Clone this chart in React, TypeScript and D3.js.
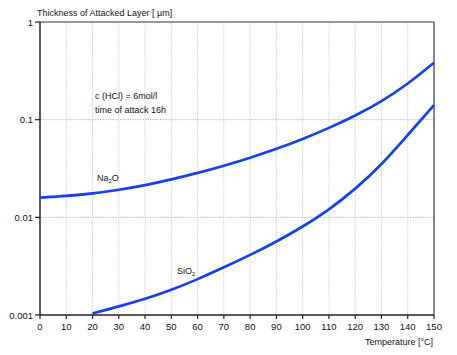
import React from "react";
import * as d3 from "d3";

const temps = [0, 10, 20, 30, 40, 50, 60, 70, 80, 90, 100, 110, 120, 130, 140, 150];
const na2oValues = [0.0159, 0.0165, 0.0175, 0.0191, 0.0213, 0.0244, 0.0284, 0.0337, 0.0406, 0.0501, 0.0632, 0.082, 0.1096, 0.1531, 0.2307, 0.383];
const sio2Temps = [20, 30, 40, 50, 60, 70, 80, 90, 100, 110, 120, 130, 140, 150];
const sio2Values = [0.00104, 0.00122, 0.00146, 0.0018, 0.00232, 0.00307, 0.00411, 0.00563, 0.008, 0.0119, 0.0194, 0.0344, 0.0697, 0.141];
const xTicks = [0, 10, 20, 30, 40, 50, 60, 70, 80, 90, 100, 110, 120, 130, 140, 150];
const yTicks = [1, 0.1, 0.01, 0.001];
const yTickLabels = ["1", "0.1", "0.01", "0.001"];

const W = 457, H = 355;
const L = 40, R = 434, T = 22, B = 315;
const FONT = "'Liberation Sans', Arial, sans-serif";
const BLUE = "#1440f0";

export default function App() {
  const x = d3.scaleLinear().domain([0, 150]).range([L, R]);
  const y = d3.scaleLog().domain([0.001, 1]).range([B, T]);
  const line = d3.line<[number, number]>().x(d => x(d[0])).y(d => y(d[1])).curve(d3.curveBasis);
  const na2o: [number, number][] = temps.map((t, i) => [t, na2oValues[i]]);
  const sio2: [number, number][] = sio2Temps.map((t, i) => [t, sio2Values[i]]);
  return (
    <svg width={W} height={H} style={{ position: "absolute", left: 0, top: 0, background: "#fff" }} fontFamily={FONT}>
      <rect x={0} y={0} width={W} height={H} fill="#fff" />
      {xTicks.filter(t => t > 0 && t < 150).map(t => (
        <line key={"gx" + t} x1={x(t)} x2={x(t)} y1={T} y2={B} stroke="#c4c8d0" strokeWidth={0.8} strokeDasharray="1.5,1" />
      ))}
      {[0.1, 0.01].map(v => (
        <line key={"gy" + v} x1={L} x2={R} y1={y(v)} y2={y(v)} stroke="#a8acb4" strokeWidth={0.8} strokeDasharray="1.5,1" />
      ))}
      <line x1={L} x2={R} y1={T} y2={T} stroke="#333" strokeWidth={1.2} />
      <line x1={R} x2={R} y1={T} y2={B} stroke="#333" strokeWidth={1.2} />
      <line x1={L} x2={L} y1={T} y2={B} stroke="#222" strokeWidth={1.5} />
      <line x1={L} x2={R} y1={B} y2={B} stroke="#222" strokeWidth={1.5} />
      {xTicks.map(t => (
        <g key={"xt" + t}>
          <line x1={x(t)} x2={x(t)} y1={B} y2={B + 4} stroke="#222" strokeWidth={1.2} />
          <text x={x(t)} y={330} textAnchor="middle" fontSize={9.5} fill="#111">{t}</text>
        </g>
      ))}
      {yTicks.map((v, i) => (
        <g key={"yt" + v}>
          <line x1={L - 5} x2={L} y1={y(v)} y2={y(v)} stroke="#222" strokeWidth={1.2} />
          <text x={33} y={y(v) + 3.5} textAnchor="end" fontSize={9.5} fill="#111">{yTickLabels[i]}</text>
        </g>
      ))}
      <path d={line(na2o) || ""} fill="none" stroke={BLUE} strokeWidth={2.7} />
      <path d={line(sio2) || ""} fill="none" stroke={BLUE} strokeWidth={2.7} />
      <text x={37} y={15.5} fontSize={9} fill="#111">Thickness of Attacked Layer [ µm]</text>
      <text x={433} y={345} textAnchor="end" fontSize={9} fill="#111">Temperature [°C]</text>
      <text x={95} y={99} fontSize={9} fill="#111">c (HCl) = 6mol/l</text>
      <text x={95} y={113} fontSize={9} fill="#111">time of attack 16h</text>
      <text x={97} y={181} fontSize={9} fill="#111">Na<tspan fontSize={6} dy={2}>2</tspan><tspan dy={-2}>O</tspan></text>
      <text x={177} y={274} fontSize={9} fill="#111">SiO<tspan fontSize={6} dy={2}>2</tspan></text>
    </svg>
  );
}
